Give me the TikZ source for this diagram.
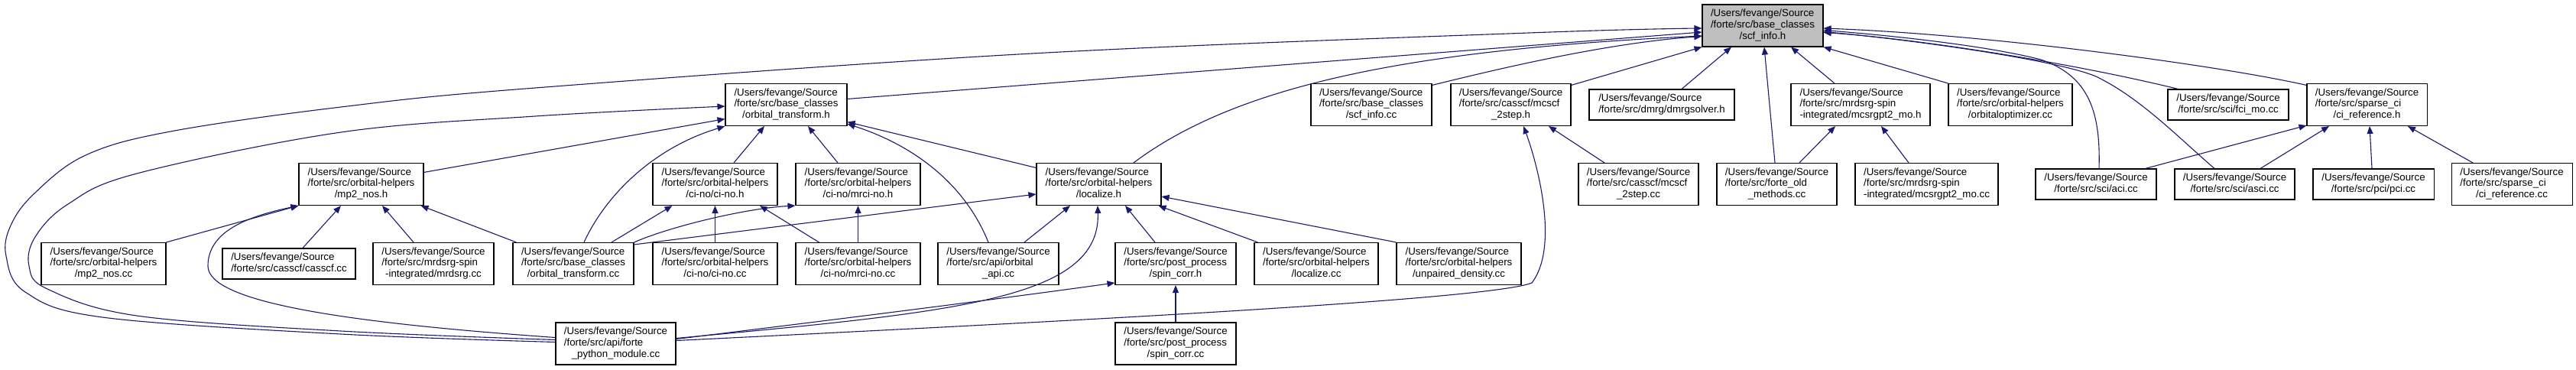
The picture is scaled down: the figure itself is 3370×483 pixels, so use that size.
\documentclass[tikz,border=0pt]{standalone}
\usepackage{fontspec}
\setmainfont{Liberation Sans}
\usetikzlibrary{arrows.meta,calc}
\definecolor{edgecol}{HTML}{191970}
\definecolor{rootfill}{HTML}{BFBFBF}
\newcommand{\tri}[2]{\begin{tabular}{@{}l@{}}/Users/fevange/Source\\#1\\\multicolumn{1}{@{}c@{}}{#2}\end{tabular}}
\newcommand{\duo}[1]{\begin{tabular}{@{}l@{}}/Users/fevange/Source\\\multicolumn{1}{@{}c@{}}{#1}\end{tabular}}
\tikzset{
  box/.style={draw=black, fill=white, line width=0.55pt, inner sep=0pt, minimum height=27.5pt,
    font=\fontsize{6.65}{7.3}\selectfont, anchor=center},
  boxtwo/.style={box, minimum height=20pt},
  edge/.style={draw=edgecol, line width=0.55pt, -{Triangle[length=5pt,width=4pt]}},
}
\begin{document}
\begin{tikzpicture}[x=0.5pt,y=-0.5pt]
\path[fill=white,use as bounding box] (0,0) rectangle (3370,483);
% row 1
\node[box,fill=rootfill,minimum width=79pt] (root) at (2306,33.5) {\tri{/forte/src/base\_classes}{/scf\_info.h}};
% row 2
\node[box,minimum width=79.5pt] (oth) at (1028.5,137) {\tri{/forte/src/base\_classes}{/orbital\_transform.h}};
\node[box,minimum width=79pt] (scfcc) at (1794,137) {\tri{/forte/src/base\_classes}{/scf\_info.cc}};
\node[box,minimum width=78.5pt] (mcscfh) at (1976.5,137) {\tri{/forte/src/casscf/mcscf}{\_2step.h}};
\node[boxtwo,minimum width=95pt] (dmrg) at (2174,137) {\duo{/forte/src/dmrg/dmrgsolver.h}};
\node[box,minimum width=91pt] (mcsrgh) at (2434,137) {\tri{/forte/src/mrdsrg-spin}{-integrated/mcsrgpt2\_mo.h}};
\node[box,minimum width=81pt] (orbopt) at (2630,137) {\tri{/forte/src/orbital-helpers}{/orbitaloptimizer.cc}};
\node[boxtwo,minimum width=79pt] (fcimo) at (2915,137) {\duo{/forte/src/sci/fci\_mo.cc}};
\node[box,minimum width=78.5pt] (cirefh) at (3096.5,137) {\tri{/forte/src/sparse\_ci}{/ci\_reference.h}};
% row 3
\node[box,minimum width=81.5pt] (mp2h) at (472.5,241) {\tri{/forte/src/orbital-helpers}{/mp2\_nos.h}};
\node[box,minimum width=81.5pt] (cinoh) at (935.5,241) {\tri{/forte/src/orbital-helpers}{/ci-no/ci-no.h}};
\node[box,minimum width=81.5pt] (mrcinoh) at (1122.5,241) {\tri{/forte/src/orbital-helpers}{/ci-no/mrci-no.h}};
\node[box,minimum width=81.5pt] (loch) at (1437.5,241) {\tri{/forte/src/orbital-helpers}{/localize.h}};
\node[box,minimum width=78.5pt] (mcscfcc) at (2143.5,241) {\tri{/forte/src/casscf/mcscf}{\_2step.cc}};
\node[box,minimum width=78.5pt] (oldm) at (2324.5,241) {\tri{/forte/src/forte\_old}{\_methods.cc}};
\node[box,minimum width=93.5pt] (mcsrgcc) at (2520.5,241) {\tri{/forte/src/mrdsrg-spin}{-integrated/mcsrgpt2\_mo.cc}};
\node[boxtwo,minimum width=79pt] (aci) at (2742,241) {\duo{/forte/src/sci/aci.cc}};
\node[boxtwo,minimum width=78.5pt] (asci) at (2923.5,241) {\duo{/forte/src/sci/asci.cc}};
\node[boxtwo,minimum width=79pt] (pci) at (3105,241) {\duo{/forte/src/pci/pci.cc}};
\node[box,minimum width=79pt] (cirefcc) at (3286,241) {\tri{/forte/src/sparse\_ci}{/ci\_reference.cc}};
% row 4
\node[box,minimum width=81.5pt] (mp2cc) at (135.5,345) {\tri{/forte/src/orbital-helpers}{/mp2\_nos.cc}};
\node[boxtwo,minimum width=87pt] (casscf) at (378,345) {\duo{/forte/src/casscf/casscf.cc}};
\node[box,minimum width=79pt] (mrdsrg) at (567,345) {\tri{/forte/src/mrdsrg-spin}{-integrated/mrdsrg.cc}};
\node[box,minimum width=79pt] (otcc) at (750,345) {\tri{/forte/src/base\_classes}{/orbital\_transform.cc}};
\node[box,minimum width=81.5pt] (cinocc) at (935.5,345) {\tri{/forte/src/orbital-helpers}{/ci-no/ci-no.cc}};
\node[box,minimum width=81.5pt] (mrcinocc) at (1122.5,345) {\tri{/forte/src/orbital-helpers}{/ci-no/mrci-no.cc}};
\node[box,minimum width=79pt] (api) at (1306,345) {\tri{/forte/src/api/orbital}{\_api.cc}};
\node[box,minimum width=79pt] (spinh) at (1538,345) {\tri{/forte/src/post\_process}{/spin\_corr.h}};
\node[box,minimum width=81pt] (loccc) at (1722,345) {\tri{/forte/src/orbital-helpers}{/localize.cc}};
\node[box,minimum width=81.5pt] (unp) at (1908.5,345) {\tri{/forte/src/orbital-helpers}{/unpaired\_density.cc}};
% row 5
\node[box,minimum width=78.5pt] (py) at (805.5,449.5) {\tri{/forte/src/api/forte}{\_python\_module.cc}};
\node[box,minimum width=79pt] (spincc) at (1538,449.5) {\tri{/forte/src/post\_process}{/spin\_corr.cc}};

% edges from python module
\draw[edge] plot[smooth,tension=0.6] coordinates {($(py.west)+(0,-2)$) (446,437) (134,415) (33,382) (8,335) (14,295) (45,253) (112,203) (223,172) (446,140) (700,115) (1350,70) (2000,43) ($(root.west)+(0,3.5)$)};
\draw[edge] plot[smooth,tension=0.6] coordinates {($(py.west)+(0,-5)$) (446,433) (179,413) (62,378) (38,348) (46,310) (89,267) (179,227) (446,173) (700,152) ($(oth.west)+(0,2)$)};
\draw[edge] ($(py.west)+(0,-8)$) .. controls (450,422) and (272,395) .. (272,348) .. controls (272,300) and (330,282) .. (mp2h.south west);
\draw[edge] ($(py.east)+(0,-7)$) .. controls (1250,408) and (1440,392) .. ($(loch.south)+(-1.5,0)$);
\draw[edge] ($(py.east)+(0,-6)$) .. controls (1200,405) and (1350,385) .. ($(spinh.west)+(0,25)$);
\draw[edge] ($(py.east)+(0,-4)$) .. controls (1400,420) and (1950,392) .. (2004,370) .. controls (2042,320) and (2008,205) .. ($(mcscfh.south)+(16.5,0)$);
% mp2_nos.h
\draw[edge] (mp2cc.north east) -- (mp2h.south west);
\draw[edge] ($(casscf.north)+(18,0)$) -- ($(mp2h.south)+(-26.5,0)$);
\draw[edge] ($(mrdsrg.north)+(-26,0)$) -- ($(mp2h.south)+(27.5,0)$);
\draw[edge] ($(otcc.north west)+(5,0)$) -- ($(mp2h.south east)+(-4,0)$);
\draw[edge] ($(mp2h.north east)+(0,12.5)$) -- ($(oth.south west)+(0,-9.5)$);
% orbital_transform.h
\draw[edge] ($(otcc.north)+(14,0)$) .. controls (790,260) and (850,195) .. (oth.south west);
\draw[edge] ($(cinoh.north)+(24.5,0)$) -- ($(oth.south)+(-28.5,0)$);
\draw[edge] ($(mrcinoh.north)+(-26.5,0)$) -- ($(oth.south)+(28.5,0)$);
\draw[edge] ($(api.north)+(-13,0)$) .. controls (1262,240) and (1195,190) .. ($(oth.south east)+(0,-3)$);
\draw[edge] ($(loch.north west)+(0,6.5)$) -- ($(oth.south east)+(0,-5.5)$);
\draw[edge] ($(oth.north east)+(0,20.5)$) -- ($(root.west)+(0,8.5)$);
% ci-no
\draw[edge] ($(otcc.north)+(50,0)$) -- ($(cinoh.south west)+(26,0)$);
\draw[edge] (cinocc.north) -- (cinoh.south);
\draw[edge] ($(mrcinocc.north west)+(31,0)$) -- ($(cinoh.south)+(58.5,0)$);
\draw[edge] (otcc.north east) .. controls (880,295) and (980,272) .. (mrcinoh.south west);
\draw[edge] (mrcinocc.north) -- (mrcinoh.south);
% localize.h
\draw[edge] ($(otcc.north east)+(0,3)$) -- ($(loch.west)+(0,13)$);
\draw[edge] ($(api.north)+(34,0)$) -- ($(loch.south)+(-37.5,0)$);
\draw[edge] ($(spinh.north)+(-27,0)$) -- ($(loch.south)+(34.5,0)$);
\draw[edge] ($(loccc.north west)+(5,0)$) -- ($(loch.south east)+(-4,0)$);
\draw[edge] (unp.north west) -- ($(loch.east)+(0,16)$);
\draw[edge] ($(loch.north)+(45.5,0)$) .. controls (1620,110) and (1850,65) .. ($(root.west)+(0,13.5)$);
% spin_corr
\draw[edge] (spincc.north) -- (spinh.south);
% root from row 2
\draw[edge] ($(scfcc.north east)+(0,2.5)$) .. controls (2000,80) and (2120,55) .. ($(root.west)+(0,14)$);
\draw[edge] ($(mcscfh.north east)+(0,2.5)$) -- (root.south west);
\draw[edge] ($(dmrg.north)+(26,0)$) -- ($(root.south)+(-41,0)$);
\draw[edge] ($(oldm.north)+(-2.5,0)$) -- ($(root.south)+(2,0)$);
\draw[edge] ($(mcsrgh.north)+(-34,0)$) -- ($(root.south)+(37,0)$);
\draw[edge] (orbopt.north west) -- (root.south east);
\draw[edge] ($(fcimo.north west)+(14,0)$) .. controls (2700,80) and (2500,50) .. ($(root.east)+(0,9)$);
\draw[edge] ($(cirefh.north west)+(0,2.5)$) .. controls (2900,85) and (2600,45) .. ($(root.east)+(0,3.5)$);
\draw[edge] ($(aci.north)+(4,0)$) .. controls (2748,150) and (2735,100) .. (2670,78) .. controls (2600,60) and (2480,47) .. ($(root.east)+(0,6)$);
\draw[edge] ($(asci.north)+(-26.5,0)$) .. controls (2850,180) and (2800,128) .. (2742,100) .. controls (2690,78) and (2500,52) .. ($(root.east)+(0,8)$);
% mcscf / mcsrgpt2
\draw[edge] ($(mcscfcc.north)+(-44.5,0)$) -- ($(mcscfh.south)+(49.5,0)$);
\draw[edge] ($(oldm.north)+(29.5,0)$) -- ($(mcsrgh.south)+(-33,0)$);
\draw[edge] ($(mcsrgcc.north)+(-23.5,0)$) -- ($(mcsrgh.south)+(27,0)$);
% ci_reference.h
\draw[edge] ($(aci.north east)+(-15,0)$) -- ($(cirefh.south west)+(0,-1)$);
\draw[edge] ($(asci.north)+(33.5,0)$) -- ($(cirefh.south)+(-49.5,0)$);
\draw[edge] ($(pci.north)+(-2,0)$) -- ($(cirefh.south)+(3.5,0)$);
\draw[edge] ($(cirefcc.north)+(-51,0)$) -- ($(cirefh.south)+(53.5,0)$);
\end{tikzpicture}
\end{document}
